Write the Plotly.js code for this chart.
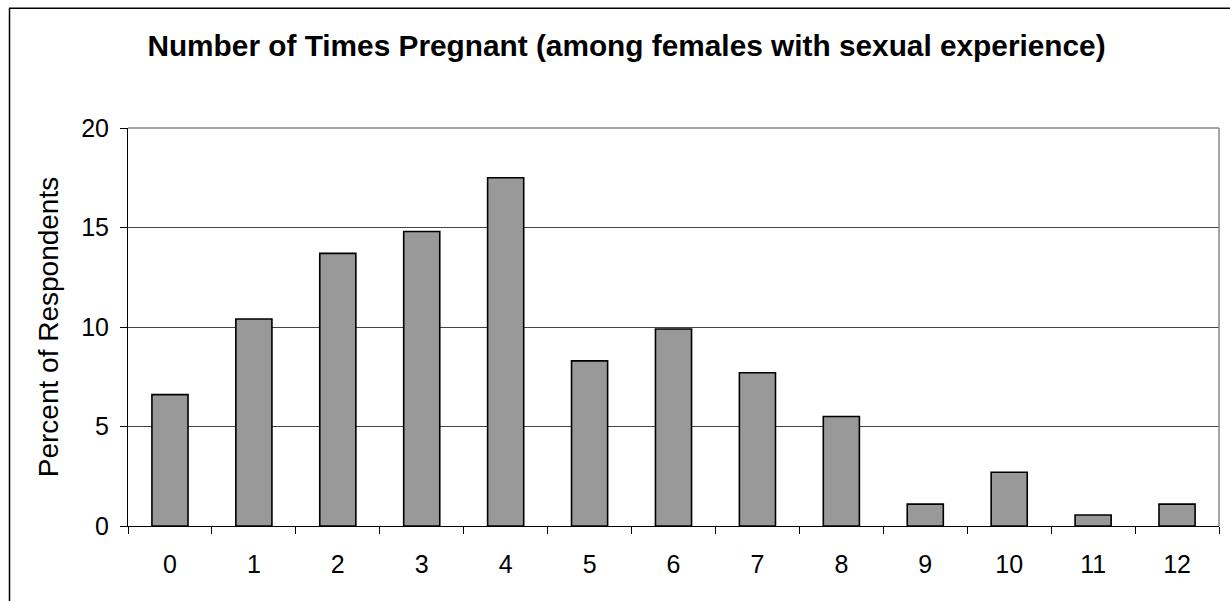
<!DOCTYPE html>
<html>
<head>
<meta charset="utf-8">
<script src="https://cdn.plot.ly/plotly-3.0.1.min.js"></script>
<style>html,body{margin:0;padding:0;background:#fff;}#chart{width:1230px;height:601px;}</style>
</head>
<body>
<div id="chart"></div>
<script>
const categories = ["0","1","2","3","4","5","6","7","8","9","10","11","12"];
const percents = [6.6, 10.4, 13.7, 14.8, 17.5, 8.3, 9.9, 7.7, 5.5, 1.1, 2.7, 0.55, 1.1];
const yTicks = [0, 5, 10, 15, 20];
const titleText = "Number of Times Pregnant (among females with sexual experience)";
const yTitleText = "Percent of Respondents";

const W = 1230, H = 601;
const M = {l: 128, r: 11, t: 127.5, b: 75};
const pw = W - M.l - M.r, ph = H - M.t - M.b;
const px = v => (v - M.l) / pw;
const py = v => (H - M.b - v) / ph;
const FONT = "Liberation Sans, Arial, sans-serif";

const trace = {
  type: "bar",
  x: categories,
  y: percents,
  width: 0.43,
  marker: {color: "#999999", line: {color: "#000000", width: 1.6}},
  hoverinfo: "x+y"
};

const layout = {
  width: W, height: H,
  margin: M,
  paper_bgcolor: "#ffffff",
  plot_bgcolor: "#ffffff",
  showlegend: false,
  font: {family: FONT, color: "#000000", size: 25},
  title: {
    text: "<b>" + titleText + "</b>",
    font: {family: FONT, size: 29.8, color: "#000000"},
    x: px(626.5), xref: "paper", xanchor: "center",
    y: 1 - 46 / H, yref: "container", yanchor: "middle"
  },
  xaxis: {
    type: "category",
    categoryorder: "array",
    categoryarray: categories,
    tickson: "boundaries",
    ticks: "outside", ticklen: 7, tickwidth: 1, tickcolor: "#000000",
    showline: true, linecolor: "#000000", linewidth: 1,
    showgrid: false, zeroline: false,
    tickfont: {family: FONT, size: 25, color: "#000000"},
    ticklabelstandoff: 16
  },
  yaxis: {
    range: [0, 20],
    tickvals: yTicks,
    ticktext: yTicks.map(String),
    ticks: "outside", ticklen: 7, tickwidth: 1, tickcolor: "#000000",
    showline: true, linecolor: "#000000", linewidth: 1,
    showgrid: true, gridcolor: "#444444", gridwidth: 1,
    zeroline: false,
    tickfont: {family: FONT, size: 25, color: "#000000"},
    ticklabelstandoff: 6,
    title: {text: yTitleText, font: {family: FONT, size: 28, color: "#000000"}, standoff: 14}
  },
  shapes: [
    {type: "line", xref: "paper", yref: "paper", x0: 0, x1: 1, y0: 1, y1: 1, line: {color: "#888888", width: 1.5}},
    {type: "line", xref: "paper", yref: "paper", x0: 1, x1: 1, y0: 0, y1: 1, line: {color: "#888888", width: 1.5}},
    {type: "line", xref: "paper", yref: "paper", x0: px(9), x1: px(W + 5), y0: py(7.5), y1: py(7.5), line: {color: "#000000", width: 1.5}},
    {type: "line", xref: "paper", yref: "paper", x0: px(9.5), x1: px(9.5), y0: py(7.5), y1: py(H + 5), line: {color: "#000000", width: 1.5}}
  ]
};

Plotly.newPlot("chart", [trace], layout, {displayModeBar: false, staticPlot: true});
</script>
</body>
</html>
